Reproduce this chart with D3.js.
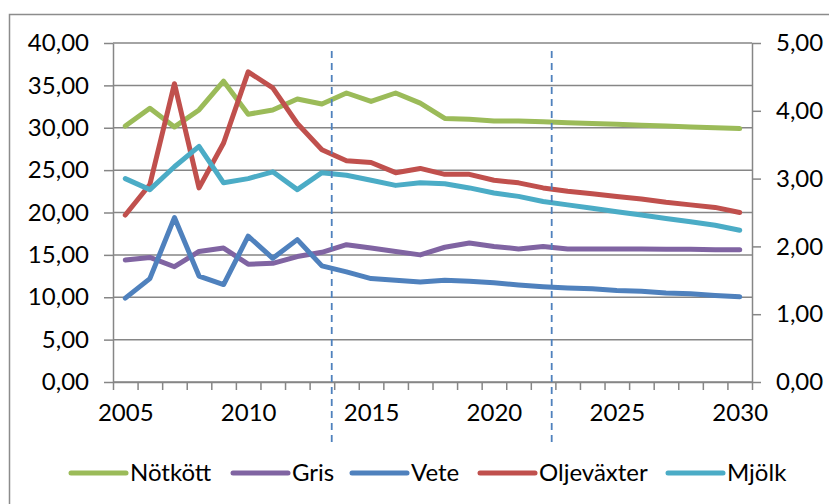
<!DOCTYPE html>
<meta charset="utf-8">
<script src="https://d3js.org/d3.v7.min.js"></script>
<style>
  body { margin: 0; background: #fff; }
  text { font-family: Lato, "Open Sans", sans-serif; font-size: 24px; fill: #000; }
</style>
<div id="chart"></div>
<script>
  // years on the x axis
  var years = d3.range(2005, 2031);
  var yearLabels = [2005, 2010, 2015, 2020, 2025, 2030];

  // series values (left axis units)
  var notkott = [30.2, 32.3, 30.1, 32.1, 35.5, 31.6, 32.1, 33.4, 32.8, 34.1, 33.1, 34.1, 32.9,
                 31.1, 31.0, 30.8, 30.8, 30.7, 30.6, 30.5, 30.4, 30.3, 30.2, 30.1, 30.0, 29.9];
  var gris = [14.4, 14.7, 13.6, 15.4, 15.8, 13.9, 14.0, 14.8, 15.3, 16.2, 15.8, 15.4, 15.0,
              15.9, 16.4, 16.0, 15.7, 16.0, 15.7, 15.7, 15.7, 15.7, 15.65, 15.65, 15.6, 15.6];
  var vete = [9.9, 12.2, 19.4, 12.5, 11.5, 17.2, 14.6, 16.8, 13.7, 13.0, 12.2, 12.0, 11.8,
              12.0, 11.9, 11.7, 11.45, 11.25, 11.1, 11.0, 10.8, 10.7, 10.5, 10.4, 10.2, 10.05];
  var oljevaxter = [19.7, 23.3, 35.2, 22.9, 28.2, 36.6, 34.7, 30.5, 27.4, 26.1, 25.9, 24.7, 25.2,
                    24.5, 24.5, 23.8, 23.5, 22.9, 22.5, 22.2, 21.9, 21.6, 21.2, 20.9, 20.6, 20.0];
  var mjolk = [24.0, 22.7, 25.4, 27.8, 23.5, 24.0, 24.8, 22.7, 24.7, 24.4, 23.8, 23.2, 23.5,
               23.4, 22.9, 22.3, 21.9, 21.3, 20.9, 20.5, 20.1, 19.7, 19.3, 18.9, 18.5, 17.9];

  var seriesNames = ["Nötkött", "Gris", "Vete", "Oljeväxter", "Mjölk"];
  var seriesValues = [notkott, gris, vete, oljevaxter, mjolk];
  var colors = ["#9BBB59", "#8064A2", "#4F81BD", "#C0504D", "#4BACC6"];

  // the two dashed markers (in year units)
  var markers = [2013.4, 2022.35];

  var leftTicks = d3.range(0, 41, 5);
  var rightTicks = d3.range(0, 6, 1);

  var W = 829, H = 504;
  var margin = {top: 43, right: 77, bottom: 122, left: 113};
  var width = W - margin.left - margin.right,
      height = H - margin.top - margin.bottom;

  var svg = d3.select("#chart").append("svg")
      .attr("width", W)
      .attr("height", H);

  // outer frame (cut off at right and bottom like the picture)
  svg.append("rect")
      .attr("x", 9.5).attr("y", 14.5)
      .attr("width", W + 10).attr("height", H + 10)
      .attr("fill", "none")
      .attr("stroke", "#8c8c8c")
      .attr("stroke-width", 1.5);

  var g = svg.append("g")
      .attr("transform", "translate(" + margin.left + "," + margin.top + ")");

  var x = d3.scaleLinear().domain([2004.5, 2030.5]).range([0, width]);
  var y = d3.scaleLinear().domain([0, 40]).range([height, 0]);
  var y2 = d3.scaleLinear().domain([0, 5]).range([height, 0]);

  var fmt = function(d) { return d3.format(".2f")(d).replace(".", ","); };

  // gridlines
  g.append("g").selectAll("line")
    .data(leftTicks)
    .enter().append("line")
      .attr("x1", 0).attr("x2", width)
      .attr("y1", function(d) { return y(d); })
      .attr("y2", function(d) { return y(d); })
      .attr("stroke", "#868686")
      .attr("stroke-width", 1.5);

  function styleAxis(sel) {
    sel.select(".domain").attr("stroke", "#868686").attr("stroke-width", 1.5);
    sel.selectAll(".tick line").attr("stroke", "#868686").attr("stroke-width", 1.5);
    sel.selectAll("text").attr("font-family", null).attr("font-size", null);
  }

  // left axis
  g.append("g")
    .call(d3.axisLeft(y).tickValues(leftTicks).tickFormat(fmt).tickSize(9).tickSizeOuter(0).tickPadding(15))
    .call(styleAxis);

  // right axis
  g.append("g")
    .attr("transform", "translate(" + width + ",0)")
    .call(d3.axisRight(y2).tickValues(rightTicks).tickFormat(fmt).tickSize(9).tickSizeOuter(0).tickPadding(15))
    .call(styleAxis);

  // bottom axis: tick marks between years, labels every 5 years
  g.append("g")
    .attr("transform", "translate(0," + height + ")")
    .call(d3.axisBottom(x).tickValues(d3.range(2004.5, 2031, 1)).tickFormat("").tickSize(8).tickSizeOuter(0))
    .call(styleAxis);
  g.append("g")
    .attr("transform", "translate(0," + height + ")")
    .call(d3.axisBottom(x).tickValues(yearLabels).tickFormat(d3.format("d")).tickSize(0).tickPadding(22))
    .call(function(s) { s.select(".domain").remove(); })
    .call(styleAxis);

  // lines
  var line = d3.line()
    .x(function(d, i) { return x(years[i]); })
    .y(function(d) { return y(d); });

  g.append("g").selectAll("path")
    .data(seriesValues)
    .enter().append("path")
      .attr("d", line)
      .attr("fill", "none")
      .attr("stroke", function(d, i) { return colors[i]; })
      .attr("stroke-width", 5)
      .attr("stroke-linejoin", "round")
      .attr("stroke-linecap", "round");

  // dashed markers
  g.append("g").selectAll("line")
    .data(markers)
    .enter().append("line")
      .attr("x1", function(d) { return x(d); })
      .attr("x2", function(d) { return x(d); })
      .attr("y1", 8)
      .attr("y2", height + 65)
      .attr("stroke", "#4F81BD")
      .attr("stroke-width", 1.8)
      .attr("stroke-dasharray", "7,5");

  // legend
  var legendX = [71, 233, 352, 480, 668];
  var legend = svg.append("g")
    .attr("transform", "translate(0,473)");
  var items = legend.selectAll("g")
    .data(seriesNames)
    .enter().append("g")
      .attr("transform", function(d, i) { return "translate(" + legendX[i] + ",0)"; });
  items.append("line")
    .attr("x1", 0).attr("x2", 55)
    .attr("stroke", function(d, i) { return colors[i]; })
    .attr("stroke-width", 5)
    .attr("stroke-linecap", "round");
  items.append("text")
    .attr("x", 59)
    .attr("dy", "0.35em")
    .text(function(d) { return d; });
</script>
